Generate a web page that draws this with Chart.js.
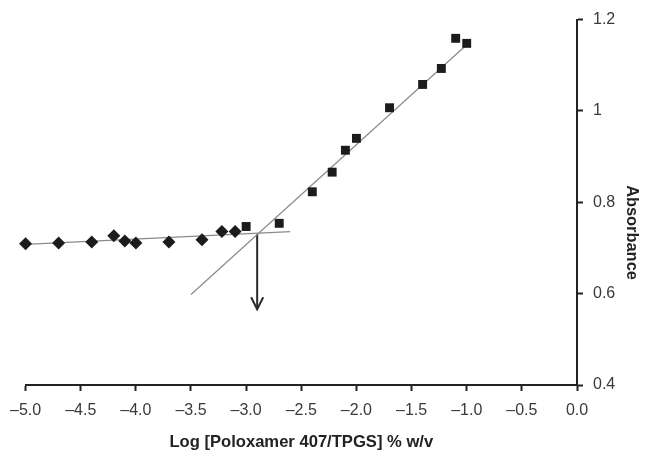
<!DOCTYPE html>
<html>
<head>
<meta charset="utf-8">
<script src="https://cdn.jsdelivr.net/npm/chart.js@4.4.1/dist/chart.umd.min.js"></script>
<style>
  html, body { margin: 0; padding: 0; background: #ffffff; }
  #wrap { width: 649px; height: 458px; position: relative; }
</style>
</head>
<body>
<div id="wrap"><canvas id="c" width="649" height="458"></canvas></div>
<script>
// ---- data ----
const belowX = [-5.0, -4.7, -4.4, -4.2, -4.1, -4.0, -3.7, -3.4, -3.22, -3.1];
const belowY = [0.709, 0.711, 0.713, 0.727, 0.715, 0.711, 0.713, 0.718, 0.736, 0.736];

const aboveX = [-3.0, -2.7, -2.4, -2.22, -2.1, -2.0, -1.7, -1.4, -1.23, -1.1, -1.0];
const aboveY = [0.747, 0.754, 0.823, 0.866, 0.914, 0.940, 1.007, 1.058, 1.093, 1.159, 1.148];

const flatFitX = [-5.0, -2.6];
const flatFitY = [0.708, 0.736];
const steepFitX = [-3.5, -1.0];
const steepFitY = [0.598, 1.145];

const arrowX = [-2.9, -2.9];
const arrowY = [0.731, 0.566];
const arrowHeadX = [-2.955, -2.9, -2.845];
const arrowHeadY = [0.592, 0.566, 0.592];

const xTicks = { min: -5.0, max: 0.0, step: 0.5 };
const yTicks = { min: 0.4, max: 1.2, step: 0.2 };

const xTitle = 'Log [Poloxamer 407/TPGS] % w/v';
const yTitle = 'Absorbance';

const pts = (xs, ys) => xs.map((x, i) => ({ x: x, y: ys[i] }));

const titlesPlugin = {
  id: 'titles',
  afterDraw(chart) {
    const ctx = chart.ctx;
    ctx.save();
    ctx.fillStyle = '#222222';
    ctx.font = 'bold 16.6px "Liberation Sans", Arial, sans-serif';
    ctx.textAlign = 'center';
    ctx.textBaseline = 'alphabetic';
    const ca = chart.chartArea;
    ctx.fillText(xTitle, (ca.left + ca.right) / 2, 446.5);
    ctx.translate(627, 232.5);
    ctx.rotate(Math.PI / 2);
    ctx.font = 'bold 16.4px "Liberation Sans", Arial, sans-serif';
    ctx.fillText(yTitle, 0, 0);
    ctx.restore();
  }
};

const ink = '#1c1c1c';
const axisColor = '#222222';

new Chart(document.getElementById('c'), {
  type: 'scatter',
  data: {
    datasets: [
      {
        data: pts(belowX, belowY),
        pointStyle: 'rectRot',
        pointRadius: 6.5,
        backgroundColor: ink,
        borderWidth: 0,
        showLine: false,
        clip: false
      },
      {
        data: pts(aboveX, aboveY),
        pointStyle: 'rect',
        pointRadius: 6.3,
        backgroundColor: ink,
        borderWidth: 0,
        showLine: false,
        clip: false
      },
      {
        data: pts(flatFitX, flatFitY),
        showLine: true, pointRadius: 0,
        borderColor: '#8a8a8a', borderWidth: 1.2, clip: false
      },
      {
        data: pts(steepFitX, steepFitY),
        showLine: true, pointRadius: 0,
        borderColor: '#8a8a8a', borderWidth: 1.2, clip: false
      },
      {
        data: pts(arrowX, arrowY),
        showLine: true, pointRadius: 0,
        borderColor: '#2a2a2a', borderWidth: 2, clip: false
      },
      {
        data: pts(arrowHeadX, arrowHeadY),
        showLine: true, pointRadius: 0,
        borderColor: '#2a2a2a', borderWidth: 2, clip: false
      }
    ]
  },
  options: {
    responsive: false,
    animation: false,
    devicePixelRatio: 1,
    layout: { padding: { left: 24, top: 14, right: 0, bottom: 0 } },
    plugins: { legend: { display: false }, tooltip: { enabled: false } },
    scales: {
      x: {
        type: 'linear',
        position: 'bottom',
        min: xTicks.min, max: xTicks.max,
        afterFit(s) { s.height = 73; },
        ticks: {
          stepSize: xTicks.step,
          padding: 10,
          color: '#3a3a3a',
          font: { family: '"Liberation Sans", Arial, sans-serif', size: 16 },
          maxRotation: 0,
          callback: (v) => (v < 0 ? '\u2013' : '') + Math.abs(v).toFixed(1)
        },
        grid: { drawOnChartArea: false, drawTicks: true, tickLength: 6, tickWidth: 2, tickColor: axisColor },
        border: { display: true, color: axisColor, width: 2 }
      },
      y: {
        type: 'linear',
        position: 'right',
        min: yTicks.min, max: yTicks.max,
        afterFit(s) { s.width = 72; },
        ticks: {
          stepSize: yTicks.step,
          padding: 10,
          color: '#3a3a3a',
          font: { family: '"Liberation Sans", Arial, sans-serif', size: 16 },
          callback: (v) => String(Math.round(v * 10) / 10)
        },
        grid: { drawOnChartArea: false, drawTicks: true, tickLength: 6, tickWidth: 2, tickColor: axisColor },
        border: { display: true, color: axisColor, width: 2 }
      }
    }
  },
  plugins: [titlesPlugin]
});
</script>
</body>
</html>
